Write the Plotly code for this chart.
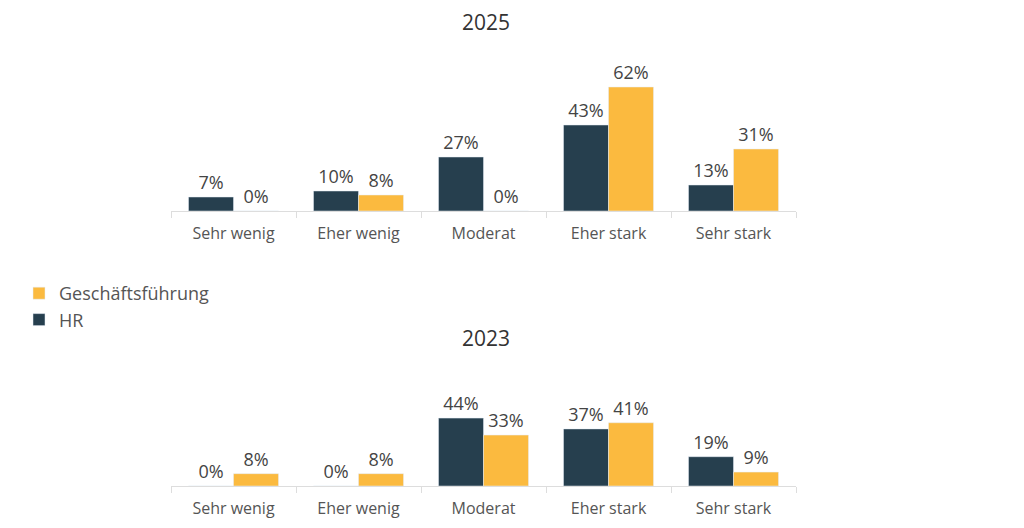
import plotly.graph_objects as go

categories = ["Sehr wenig", "Eher wenig", "Moderat", "Eher stark", "Sehr stark"]
hr_2025 = [7, 10, 27, 43, 13]
gf_2025 = [0, 8, 0, 62, 31]
hr_2023 = [0, 0, 44, 37, 19]
gf_2023 = [8, 8, 33, 41, 9]

HR_COLOR = "#263F4E"
GF_COLOR = "#FBBA3F"
FONT = "Open Sans"
W, H = 1024, 528
OFF = 8  # page body margin

def py(px):
    return 1 - (px - OFF) / H

def pxx(px):
    return (px - OFF) / W

fig = go.Figure()

def add_panel(hr, gf, xa, ya, show):
    fig.add_trace(go.Bar(x=categories, y=hr, name="HR", marker_color=HR_COLOR,
                         xaxis=xa, yaxis=ya, showlegend=show,
                         text=[f"{v}%" for v in hr], textposition="outside",
                         textfont=dict(size=18, color="#444444", family=FONT),
                         cliponaxis=False, hoverinfo="skip"))
    fig.add_trace(go.Bar(x=categories, y=gf, name="Geschäftsführung", marker_color=GF_COLOR,
                         xaxis=xa, yaxis=ya, showlegend=show,
                         text=[f"{v}%" for v in gf], textposition="outside",
                         textfont=dict(size=18, color="#444444", family=FONT),
                         cliponaxis=False, hoverinfo="skip"))

add_panel(hr_2025, gf_2025, "x", "y", True)
add_panel(hr_2023, gf_2023, "x2", "y2", False)

xdom = [pxx(171), pxx(796)]
xcommon = dict(domain=xdom, type="category", showline=True, linecolor="#DDDDDD", linewidth=1,
               ticks="outside", tickson="boundaries", ticklen=6, tickcolor="#DDDDDD",
               ticklabelstandoff=8,
               tickfont=dict(size=16, color="#555555", family=FONT), showgrid=False,
               zeroline=False, fixedrange=True)
ycommon = dict(showgrid=False, zeroline=False, showticklabels=False, showline=False,
               fixedrange=True)

fig.update_layout(
    width=W, height=H,
    margin=dict(l=0, r=0, t=0, b=0),
    paper_bgcolor="white", plot_bgcolor="white",
    barmode="group", bargap=0.28, bargroupgap=0,
    font=dict(family=FONT, color="#444444"),
    xaxis=dict(**xcommon, anchor="y"),
    yaxis=dict(**ycommon, domain=[py(211), py(61)], range=[0, 75], anchor="x"),
    xaxis2=dict(**xcommon, anchor="y2"),
    yaxis2=dict(**ycommon, domain=[py(486), py(378)], range=[0, 70], anchor="x2"),
    legend=dict(x=pxx(19), y=py(275), xanchor="left", yanchor="top",
                font=dict(size=18, color="#555555", family=FONT),
                traceorder="reversed", tracegroupgap=4, itemwidth=30),
    annotations=[
        dict(text="2025", x=(pxx(173) + pxx(798)) / 2, y=py(22), xref="paper", yref="paper",
             xanchor="center", yanchor="middle",
             showarrow=False, font=dict(size=21, color="#333333", family=FONT)),
        dict(text="2023", x=(pxx(173) + pxx(798)) / 2, y=py(338), xref="paper", yref="paper",
             xanchor="center", yanchor="middle",
             showarrow=False, font=dict(size=21, color="#333333", family=FONT)),
    ],
)

fig.write_html("out.html")
